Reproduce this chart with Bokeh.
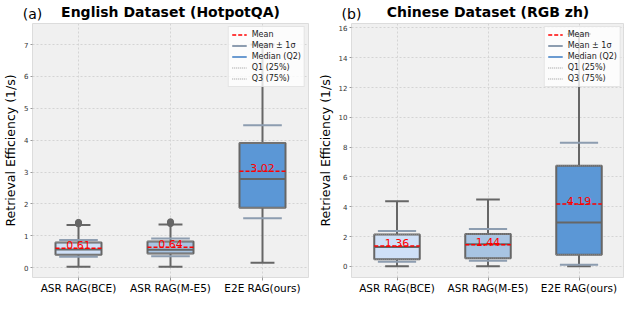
from bokeh.plotting import figure
from bokeh.layouts import row
from bokeh.models import Range1d, FixedTicker, Legend, LegendItem, LinearAxis
from bokeh.core.properties import value
from bokeh.embed import file_html
from bokeh.resources import INLINE

FONT = "DejaVu Sans"

categories = ["ASR RAG(BCE)", "ASR RAG(M-E5)", "E2E RAG(ours)"]
box_colors = ["#cfe0f7", "#a8c4e2", "#5b97d6"]

# English Dataset (HotpotQA)
en_low = [0.03, 0.03, 0.15]
en_q1 = [0.40, 0.44, 1.88]
en_med = [0.57, 0.56, 2.78]
en_q3 = [0.79, 0.82, 3.91]
en_high = [1.34, 1.35, 7.00]
en_mean = [0.61, 0.64, 3.02]
en_sd_lo = [0.34, 0.36, 1.55]
en_sd_hi = [0.87, 0.91, 4.47]
en_out_cat = ["ASR RAG(BCE)", "ASR RAG(BCE)", "ASR RAG(BCE)",
              "ASR RAG(M-E5)", "ASR RAG(M-E5)", "ASR RAG(M-E5)"]
en_out_val = [1.37, 1.40, 1.42, 1.38, 1.41, 1.44]
en_yticks = [0, 1, 2, 3, 4, 5, 6, 7]

# Chinese Dataset (RGB zh)
zh_low = [0.0, 0.0, 0.0]
zh_q1 = [0.47, 0.55, 0.77]
zh_med = [1.30, 1.48, 2.94]
zh_q3 = [2.13, 2.17, 6.75]
zh_high = [4.36, 4.48, 15.6]
zh_mean = [1.36, 1.44, 4.19]
zh_sd_lo = [0.30, 0.38, 0.10]
zh_sd_hi = [2.37, 2.50, 8.30]
zh_out_cat = []
zh_out_val = []
zh_yticks = [0, 2, 4, 6, 8, 10, 12, 14, 16]

legend_labels = ["Mean", "Mean \u00b1 1\u03c3", "Median (Q2)", "Q1 (25%)", "Q3 (75%)"]


def panel(title, tag, low, q1, med, q3, high, mean, sdlo, sdhi,
          out_cat, out_val, yr, yticks, width, right_border):
    xs = list(range(len(categories)))
    p = figure(width=width, height=296, x_range=Range1d(-0.5, 2.5),
               y_range=Range1d(*yr), output_backend="svg",
               toolbar_location=None,
               min_border_left=2, min_border_right=right_border,
               min_border_top=0, min_border_bottom=0)
    p.background_fill_color = "#f0f0f0"
    p.border_fill_color = "white"
    p.outline_line_color = "#dcdcdc"

    # title row: bold title as axis label, panel tag as a tick label on the same row
    top = LinearAxis(ticker=FixedTicker(ticks=[-0.5]),
                     major_label_overrides={-0.5: tag},
                     axis_label=title)
    top.axis_line_color = None
    top.major_tick_line_color = None
    top.minor_tick_line_color = None
    top.major_tick_in = 0
    top.major_tick_out = 0
    top.major_label_standoff = 2
    top.major_label_text_font = FONT
    top.major_label_text_font_size = "14px"
    top.major_label_text_color = "black"
    top.axis_label_text_font = FONT
    top.axis_label_text_font_size = "14px"
    top.axis_label_text_font_style = "bold"
    top.axis_label_text_color = "black"
    top.axis_label_standoff = -17
    p.add_layout(top, "above")

    hw = 0.25
    cw = 0.13
    sw = 0.21
    gray = "#666666"
    # whiskers
    p.segment(x0=xs, y0=low, x1=xs, y1=high, line_color=gray, line_width=2)
    p.segment(x0=[x - cw for x in xs], y0=low, x1=[x + cw for x in xs], y1=low,
              line_color=gray, line_width=2)
    p.segment(x0=[x - cw for x in xs], y0=high, x1=[x + cw for x in xs], y1=high,
              line_color=gray, line_width=2)
    # boxes
    p.vbar(x=xs, width=2 * hw, bottom=q1, top=q3, fill_color=box_colors,
           line_color=gray, line_width=2)
    # Q1 / Q3 dotted
    p.segment(x0=[x - hw for x in xs], y0=q1, x1=[x + hw for x in xs], y1=q1,
              line_color="#999999", line_width=1, line_dash="1 1")
    p.segment(x0=[x - hw for x in xs], y0=q3, x1=[x + hw for x in xs], y1=q3,
              line_color="#999999", line_width=1, line_dash="1 1")
    # median
    p.segment(x0=[x - hw for x in xs], y0=med, x1=[x + hw for x in xs], y1=med,
              line_color=gray, line_width=2)
    # mean +- sd
    r_sd = p.segment(x0=[x - sw for x in xs], y0=sdlo, x1=[x + sw for x in xs], y1=sdlo,
                     line_color="#8d9db0", line_width=2)
    p.segment(x0=[x - sw for x in xs], y0=sdhi, x1=[x + sw for x in xs], y1=sdhi,
              line_color="#8d9db0", line_width=2)
    # mean
    r_mean = p.segment(x0=[x - hw for x in xs], y0=mean, x1=[x + hw for x in xs], y1=mean,
                       line_color="red", line_width=1.5, line_dash="4 2")
    p.text(x=xs, y=mean, text=["%.2f" % m for m in mean], text_color="red",
           text_font=value(FONT), text_font_size="11px", text_align="center",
           text_baseline="bottom", y_offset=1)
    # outliers
    if out_cat:
        ox = [categories.index(c) for c in out_cat]
        p.scatter(x=ox, y=out_val, size=6, fill_color=gray, line_color=gray)

    # legend-only samples (kept outside the visible range)
    off_x = [-9, -8]
    off_y = [-99, -99]
    r_med_leg = p.line(x=off_x, y=off_y, line_color="#6b9bd1", line_width=2)
    r_q1_leg = p.line(x=off_x, y=off_y, line_color="#999999", line_width=1, line_dash="1 1")
    r_q3_leg = p.line(x=off_x, y=off_y, line_color="#999999", line_width=1, line_dash="1 1")

    rends = [r_mean, r_sd, r_med_leg, r_q1_leg, r_q3_leg]
    legend = Legend(items=[LegendItem(label=l, renderers=[r])
                           for l, r in zip(legend_labels, rends)],
                    location="top_right")
    legend.label_text_font = FONT
    legend.label_text_font_size = "8px"
    legend.label_text_color = "#222222"
    legend.label_height = 9
    legend.glyph_height = 9
    legend.glyph_width = 15
    legend.spacing = 2
    legend.padding = 3
    legend.margin = 3
    legend.label_standoff = 5
    legend.border_line_color = "#cccccc"
    legend.background_fill_color = "white"
    legend.background_fill_alpha = 0.8
    p.add_layout(legend)

    # axes
    xa = p.below[0]
    xa.ticker = FixedTicker(ticks=xs)
    xa.major_label_overrides = {i: c for i, c in enumerate(categories)}
    xa.major_label_text_font = FONT
    xa.major_label_text_font_size = "10.5px"
    xa.major_label_text_color = "black"
    xa.major_tick_in = 0
    xa.major_tick_out = 3
    xa.major_tick_line_color = "#999999"
    xa.minor_tick_line_color = None
    xa.axis_line_color = None
    xa.major_label_standoff = 1
    xa.axis_label = None
    xa.axis_label_standoff = 0

    ya = p.left[0]
    ya.ticker = FixedTicker(ticks=yticks)
    ya.major_label_text_font = FONT
    ya.major_label_text_font_size = "7px"
    ya.major_label_text_color = "#333333"
    ya.major_tick_in = 0
    ya.major_tick_out = 2
    ya.major_tick_line_color = "#999999"
    ya.minor_tick_line_color = None
    ya.axis_line_color = None
    ya.major_label_standoff = 2
    ya.axis_label = "Retrieval Efficiency (1/s)"
    ya.axis_label_text_font = FONT
    ya.axis_label_text_font_size = "12.5px"
    ya.axis_label_text_font_style = "normal"
    ya.axis_label_text_color = "black"
    ya.axis_label_standoff = 3

    p.grid.grid_line_color = "#d4d4d4"
    p.grid.grid_line_dash = "2 2"
    p.grid.grid_line_width = 1
    return p


p1 = panel("English Dataset (HotpotQA)", "(a)", en_low, en_q1, en_med, en_q3,
           en_high, en_mean, en_sd_lo, en_sd_hi, en_out_cat, en_out_val,
           (-0.31, 7.66), en_yticks, 314, 6)
p2 = panel("Chinese Dataset (RGB zh)", "(b)", zh_low, zh_q1, zh_med, zh_q3,
           zh_high, zh_mean, zh_sd_lo, zh_sd_hi, zh_out_cat, zh_out_val,
           (-0.75, 16.3), zh_yticks, 310, 0)

layout = row(p1, p2)
open("out.html", "w").write(file_html(layout, INLINE))
